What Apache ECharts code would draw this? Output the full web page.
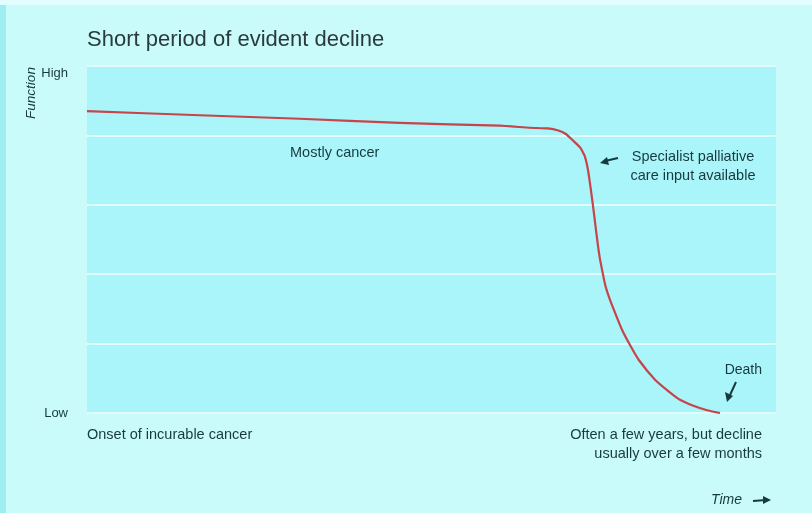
<!DOCTYPE html>
<html>
<head>
<meta charset="utf-8">
<script src="https://cdn.jsdelivr.net/npm/echarts@6/dist/echarts.min.js"></script>
<style>
html,body{margin:0;padding:0;background:#c9fbfb;}
#c{width:812px;height:513px;}
</style>
</head>
<body>
<div id="c"></div>
<script>
// Data (time on 0-100 scale, function on 0-5 scale)
var timeValues = [0, 16.4, 30.9, 45.4, 59.9, 64.3, 66.9, 68.4, 69.5, 70.5, 71.55, 71.9, 72.28, 72.64, 72.93, 73.29, 73.66, 74.02, 74.38, 74.82, 75.25, 75.91, 76.78, 77.65, 78.81, 80.12, 82.44, 84.32, 86.07, 88.10, 89.99, 91.87];
var functionValues = [4.35, 4.29, 4.24, 4.18, 4.14, 4.11, 4.10, 4.07, 4.02, 3.93, 3.83, 3.77, 3.69, 3.54, 3.36, 3.10, 2.81, 2.52, 2.26, 2.03, 1.83, 1.63, 1.41, 1.20, 0.98, 0.76, 0.48, 0.32, 0.19, 0.10, 0.04, 0.0];
var yTickLabels = {0: 'Low', 5: 'High'};

var chart = echarts.init(document.getElementById('c'));
var pts = timeValues.map(function (t, i) { return [t, functionValues[i]]; });
var font = '"Liberation Sans", Arial, sans-serif';
var txt = '#173a3e';

chart.setOption({
  backgroundColor: '#c9fbfb',
  animation: false,
  grid: {left: 87, top: 66, right: 36, bottom: 100, show: true, backgroundColor: '#a9f5f9', borderWidth: 0},
  xAxis: {type: 'value', min: 0, max: 100, show: false},
  yAxis: {
    type: 'value', min: 0, max: 5, interval: 1,
    axisLine: {show: false}, axisTick: {show: false},
    splitLine: {show: true, lineStyle: {color: '#e0fcfc', width: 2}},
    axisLabel: {
      margin: 19, color: txt, fontFamily: font, fontSize: 13,
      formatter: function (v) { return v === 5 ? '{h|' + yTickLabels[v] + '}' : (yTickLabels[v] || ''); },
      rich: {h: {padding: [14, 0, 0, 0], fontSize: 13, fontFamily: font, color: txt}}
    }
  },
  graphic: [
    {type: 'rect', left: 0, top: 0, shape: {width: 6, height: 513}, style: {fill: '#9eeef1'}, silent: true},
    {type: 'rect', left: 0, top: 0, shape: {width: 812, height: 5}, style: {fill: '#e2fdfd'}, silent: true},
    {type: 'text', x: 87, y: 40, style: {text: 'Short period of evident decline', font: '22px ' + font, fill: '#2b3a3c', textVerticalAlign: 'middle'}},
    {type: 'text', x: 31, y: 93, rotation: Math.PI / 2, style: {text: 'Function', font: 'italic 13.5px ' + font, fill: txt, textAlign: 'center', textVerticalAlign: 'middle'}},
    {type: 'text', x: 290, y: 153, style: {text: 'Mostly cancer', font: '14.5px ' + font, fill: txt, textVerticalAlign: 'middle'}},
    {type: 'text', x: 693, y: 157, style: {text: 'Specialist palliative', font: '14.5px ' + font, fill: txt, textAlign: 'center', textVerticalAlign: 'middle'}},
    {type: 'text', x: 693, y: 176, style: {text: 'care input available', font: '14.5px ' + font, fill: txt, textAlign: 'center', textVerticalAlign: 'middle'}},
    {type: 'text', x: 762, y: 370, style: {text: 'Death', font: '14px ' + font, fill: txt, textAlign: 'right', textVerticalAlign: 'middle'}},
    {type: 'text', x: 87, y: 435, style: {text: 'Onset of incurable cancer', font: '14.5px ' + font, fill: txt, textVerticalAlign: 'middle'}},
    {type: 'text', x: 762, y: 435, style: {text: 'Often a few years, but decline', font: '14.5px ' + font, fill: txt, textAlign: 'right', textVerticalAlign: 'middle'}},
    {type: 'text', x: 762, y: 454, style: {text: 'usually over a few months', font: '14.5px ' + font, fill: txt, textAlign: 'right', textVerticalAlign: 'middle'}},
    {type: 'text', x: 711, y: 500, style: {text: 'Time', font: 'italic 14px ' + font, fill: txt, textVerticalAlign: 'middle'}},
    {type: 'line', shape: {x1: 753, y1: 501, x2: 766, y2: 500}, style: {stroke: txt, lineWidth: 2}},
    {type: 'polygon', shape: {points: [[771, 500], [763, 496], [763, 504]]}, style: {fill: txt}},
    {type: 'line', shape: {x1: 618, y1: 158, x2: 605, y2: 161}, style: {stroke: txt, lineWidth: 2}},
    {type: 'polygon', shape: {points: [[600, 163], [607, 157], [609, 165]]}, style: {fill: txt}},
    {type: 'line', shape: {x1: 736, y1: 382, x2: 730, y2: 395}, style: {stroke: txt, lineWidth: 2}},
    {type: 'polygon', shape: {points: [[727, 402], [725, 392], [733, 396]]}, style: {fill: txt}}
  ],
  series: [{
    type: 'line',
    data: pts,
    smooth: 0.15,
    symbol: 'none',
    lineStyle: {color: '#c6444a', width: 2.2, join: 'round'}
  }]
});
</script>
</body>
</html>
